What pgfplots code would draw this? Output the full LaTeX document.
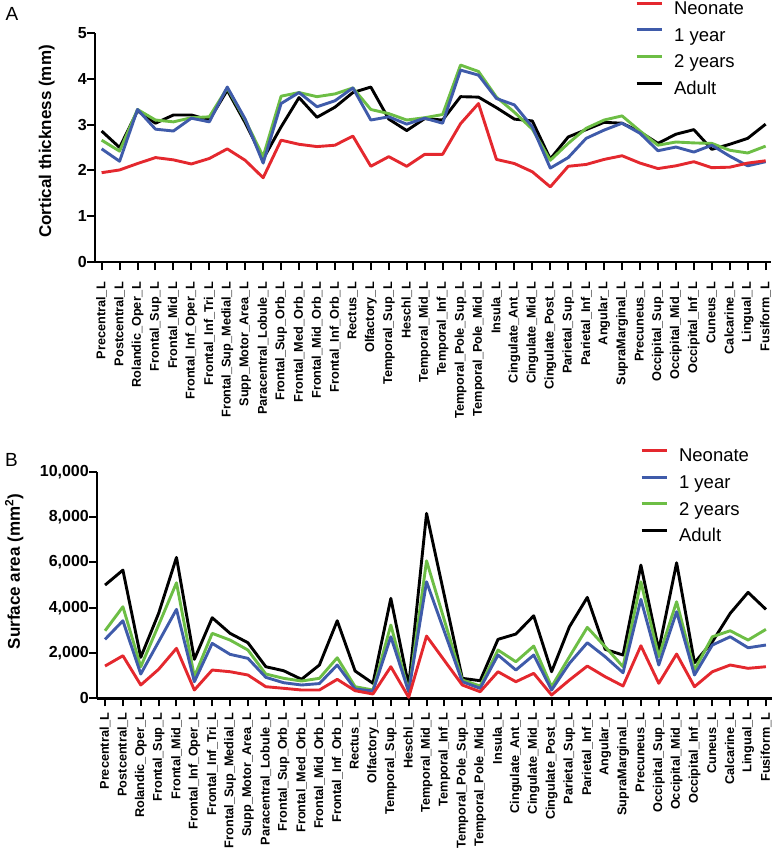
\documentclass[border=0pt]{standalone}
\usepackage{fontspec}
\setmainfont{Liberation Sans}
\usepackage{pgfplots}
\usepackage{pgfplotstable}
\pgfplotsset{compat=1.18}

\definecolor{neo}{HTML}{E4282E}
\definecolor{oneyr}{HTML}{3F5BAA}
\definecolor{twoyr}{HTML}{6DBE45}

\newcommand\xfont{\bfseries\fontsize{12.7}{14}\selectfont}
\newcommand\yfont{\bfseries\fontsize{16}{18}\selectfont}
\newcommand\labfont{\bfseries\fontsize{17}{19}\selectfont}
\newcommand\legfont{\fontsize{18.5}{20}\selectfont}

% cortical thickness (mm)
\pgfplotstableread{
i neo one two adult
0 1.95 2.47 2.66 2.86
1 2.01 2.20 2.42 2.50
2 2.15 3.33 3.33 3.30
3 2.28 2.90 3.10 3.03
4 2.23 2.86 3.06 3.21
5 2.14 3.14 3.15 3.21
6 2.26 3.06 3.17 3.10
7 2.47 3.82 3.80 3.75
8 2.22 3.12 3.10 3.04
9 1.84 2.16 2.30 2.25
10 2.66 3.46 3.62 2.95
11 2.57 3.70 3.70 3.59
12 2.52 3.39 3.61 3.16
13 2.55 3.52 3.67 3.38
14 2.75 3.80 3.80 3.70
15 2.09 3.10 3.33 3.82
16 2.30 3.17 3.24 3.12
17 2.09 3.01 3.10 2.87
18 2.35 3.14 3.15 3.13
19 2.35 3.03 3.22 3.10
20 3.02 4.19 4.30 3.61
21 3.46 4.08 4.16 3.60
22 2.24 3.57 3.60 3.37
23 2.15 3.43 3.27 3.12
24 1.97 2.95 2.90 3.08
25 1.64 2.05 2.22 2.25
26 2.09 2.28 2.59 2.73
27 2.13 2.70 2.92 2.89
28 2.24 2.88 3.10 3.05
29 2.32 3.03 3.19 3.03
30 2.16 2.81 2.86 2.84
31 2.04 2.43 2.55 2.59
32 2.10 2.51 2.62 2.79
33 2.19 2.40 2.60 2.89
34 2.06 2.55 2.59 2.46
35 2.07 2.31 2.44 2.57
36 2.16 2.10 2.38 2.70
37 2.21 2.19 2.53 3.01
}\thicktab

% surface area (mm^2)
\pgfplotstableread{
i neo one two adult
0 1424 2602 2981 4997
1 1879 3422 4040 5658
2 587 1072 1394 1808
3 1279 2496 3233 3749
4 2205 3925 5098 6218
5 366 732 953 1720
6 1248 2425 2867 3555
7 1173 1940 2571 2867
8 1028 1764 2130 2452
9 512 926 1072 1394
10 441 688 882 1217
11 366 587 763 838
12 366 650 882 1469
13 838 1469 1790 3422
14 335 410 512 1204
15 190 322 366 661
16 1394 2716 3233 4410
17 44 291 291 550
18 2747 5142 6068 8159
19 1667 2937 3437 4520
20 587 732 807 882
21 291 441 543 777
22 1173 1910 2130 2602
23 732 1248 1614 2836
24 1102 1910 2306 3643
25 146 366 512 1173
26 807 1543 1835 3158
27 1424 2452 3131 4454
28 953 1835 2276 2161
29 543 1129 1394 1910
30 2320 4366 5142 5878
31 661 1469 1835 2130
32 1954 3819 4260 5980
33 512 1028 1248 1570
34 1173 2351 2716 2496
35 1469 2716 2981 3749
36 1323 2231 2571 4675
37 1394 2351 3043 3925
}\areatab

\pgfplotsset{
  panel/.style={
    scale only axis,
    axis x line*=bottom, axis y line*=left,
    axis line style={line width=2.5pt, -},
    tick style={line width=2pt, black},
    tick align=outside, major tick length=8pt,
    xtick={0,...,37},
    xticklabels={Precentral\_L, Postcentral\_L, Rolandic\_Oper\_L, Frontal\_Sup\_L,
      Frontal\_Mid\_L, Frontal\_Inf\_Oper\_L, Frontal\_Inf\_Tri\_L, Frontal\_Sup\_Medial\_L,
      Supp\_Motor\_Area\_L, Paracentral\_Lobule\_L, Frontal\_Sup\_Orb\_L, Frontal\_Med\_Orb\_L,
      Frontal\_Mid\_Orb\_L, Frontal\_Inf\_Orb\_L, Rectus\_L, Olfactory\_L, Temporal\_Sup\_L,
      Heschl\_L, Temporal\_Mid\_L, Temporal\_Inf\_L, Temporal\_Pole\_Sup\_L,
      Temporal\_Pole\_Mid\_L, Insula\_L, Cingulate\_Ant\_L, Cingulate\_Mid\_L,
      Cingulate\_Post\_L, Parietal\_Sup\_L, Parietal\_Inf\_L, Angular\_L, SupraMarginal\_L,
      Precuneus\_L, Occipital\_Sup\_L, Occipital\_Mid\_L, Occipital\_Inf\_L, Cuneus\_L,
      Calcarine\_L, Lingual\_L, Fusiform\_L},
    xticklabel style={rotate=90, anchor=east, font=\xfont, inner sep=0pt},
    yticklabel style={font=\yfont, inner sep=0pt},
    ylabel style={font=\labfont, anchor=south, inner sep=0pt},
    /pgf/number format/assume math mode=true,
    scaled y ticks=false,
    clip=false,
    every axis plot/.append style={line width=2.9pt, line join=round, no markers},
    legend image code/.code={\draw[##1] (0pt,6.6pt) -- (25pt,6.6pt);},
    reverse legend,
    legend cell align=left,
    legend style={anchor=north west, draw=none, fill=none, inner sep=0pt,
      font=\legfont, row sep=9.7pt,
      nodes={inner sep=0pt, text height=13pt, text depth=4pt},
      /tikz/every odd column/.append style={column sep=11pt}},
  }
}

\begin{document}
\begin{tikzpicture}
\path[use as bounding box] (0pt,0pt) rectangle (774pt,-853pt);
\node[font=\fontsize{19}{20}\selectfont, inner sep=0pt] at (12pt,-13.5pt) {A};
\node[font=\fontsize{19}{20}\selectfont, inner sep=0pt] at (11.5pt,-459.5pt) {B};

\begin{axis}[panel,
  at={(95pt,-262pt)}, anchor=south west,
  width=676pt, height=229pt,
  xmin=-0.37, xmax=37.3, ymin=0, ymax=5,
  ytick={0,1,2,3,4,5},
  xticklabel style={xshift=-12pt},
  ylabel={Cortical thickness (mm)},
  ylabel style={at={(axis description cs:-0.0592,0.526)}},
  legend style={at={(axis description cs:0.7988,1.1393)}},
]
\addplot[black] table[x=i, y=adult] {\thicktab};
\addplot[twoyr] table[x=i, y=two] {\thicktab};
\addplot[oneyr] table[x=i, y=one] {\thicktab};
\addplot[neo] table[x=i, y=neo] {\thicktab};
\legend{Adult, 2 years, 1 year, Neonate}
\end{axis}

\begin{axis}[panel,
  at={(97pt,-698.3pt)}, anchor=south west,
  width=675pt, height=226.6pt,
  xmin=-0.45, xmax=37.34, ymin=0, ymax=10000,
  ytick={0,2000,4000,6000,8000,10000},
  xticklabel style={xshift=-6pt},
  ylabel={Surface area (mm\textsuperscript{2})},
  ylabel style={at={(axis description cs:-0.1089,0.56)}},
  legend style={at={(axis description cs:0.8044,1.1028)}},
]
\addplot[black] table[x=i, y=adult] {\areatab};
\addplot[twoyr] table[x=i, y=two] {\areatab};
\addplot[oneyr] table[x=i, y=one] {\areatab};
\addplot[neo] table[x=i, y=neo] {\areatab};
\legend{Adult, 2 years, 1 year, Neonate}
\end{axis}
\end{tikzpicture}
\end{document}
